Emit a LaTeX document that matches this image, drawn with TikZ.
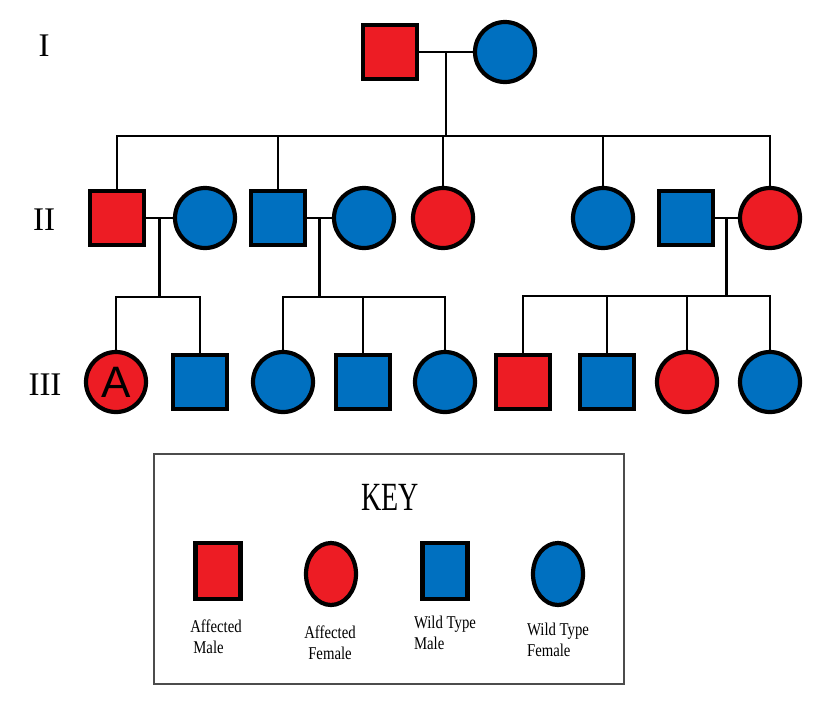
\documentclass[tikz,border=0pt]{standalone}
\usepackage{fontspec}
\setmainfont{Liberation Serif}
\newfontfamily\sansA{Liberation Sans}
\newfontfamily\keyfont[FakeStretch=0.82]{Liberation Serif}
\newfontfamily\keyhead[FakeStretch=0.7]{Liberation Serif}
\usetikzlibrary{calc,shapes.geometric}
\definecolor{affred}{HTML}{ED1C24}
\definecolor{wtblue}{HTML}{0070C0}

\begin{document}
\begin{tikzpicture}[x=1pt,y=-1pt,line width=2.7pt,
    male/.style={rectangle,draw,line width=4.2pt,minimum size=54pt,inner sep=0pt},
    female/.style={circle,draw,line width=4.2pt,minimum size=60pt,inner sep=0pt},
    aff/.style={fill=affred},
    wt/.style={fill=wtblue},
    gen/.style={font=\fontsize{33}{33}\selectfont},
    keytxt/.style={font=\keyfont\fontsize{18}{21}\selectfont,align=left}]
    \useasboundingbox (0,0) rectangle (826,716);

    % generation I
    \node at (44,46) [gen] (g1) {I};
    \node at (390,52) [male,aff] (i1) {};
    \node at (505,52) [female,wt] (i2) {};

    % generation II
    \node at (44,220) [gen] (g2) {II};
    \node at (117,218) [male,aff] (ii1) {};
    \node at (205,218) [female,wt] (ii2) {};
    \node at (278,218) [male,wt] (ii3) {};
    \node at (364,218) [female,wt] (ii4) {};
    \node at (443,218) [female,aff] (ii5) {};
    \node at (603,218) [female,wt] (ii6) {};
    \node at (686,218) [male,wt] (ii7) {};
    \node at (770,218) [female,aff] (ii8) {};

    % generation III
    \node at (45,385) [gen] (g3) {III};
    \node at (116,382) [female,aff,font=\sansA\fontsize{44}{44}\selectfont] (iii1) {A};
    \node at (200,382) [male,wt] (iii2) {};
    \node at (283,382) [female,wt] (iii3) {};
    \node at (363,382) [male,wt] (iii4) {};
    \node at (445,382) [female,wt] (iii5) {};
    \node at (523,382) [male,aff] (iii6) {};
    \node at (607,382) [male,wt] (iii7) {};
    \node at (687,382) [female,aff] (iii8) {};
    \node at (770,382) [female,wt] (iii9) {};

    % matings and descent lines
    \coordinate (m1) at ($(i1.east)!0.5!(i2.west)$);
    \coordinate (s1) at ($(m1)+(0,84)$);
    \coordinate (m2) at ($(ii1.east)!0.5!(ii2.west)$);
    \coordinate (s2) at ($(m2)+(0,79)$);
    \coordinate (m3) at ($(ii3.east)!0.5!(ii4.west)$);
    \coordinate (s3) at ($(m3)+(0,79)$);
    \coordinate (m4) at ($(ii7.east)!0.5!(ii8.west)$);
    \coordinate (s4) at ($(m4)+(0,78)$);

    \draw (i1) -- (i2) (m1) -- (s1);
    \draw (ii1.north) |- (s1) (ii3.north) |- (s1) (ii5.north) |- (s1)
          (ii6.north) |- (s1) (ii8.north) |- (s1);
    \draw (ii1) -- (ii2) (m2) -- (s2);
    \draw (iii1.north) |- (s2) (iii2.north) |- (s2);
    \draw (ii3) -- (ii4) (m3) -- (s3);
    \draw (iii3.north) |- (s3) (iii4.north) |- (s3) (iii5.north) |- (s3);
    \draw (ii7) -- (ii8) (m4) -- (s4);
    \draw (iii6.north) |- (s4) (iii7.north) |- (s4) (iii8.north) |- (s4)
          (iii9.north) |- (s4);

    % key
    \node at (389,569) [draw=black!70,line width=1.6pt,minimum width=470pt,minimum height=230pt] (keybox) {};
    \node at (390,497) [font=\keyhead\fontsize{40}{40}\selectfont] (keyt) {KEY};
    \node at (218,571) [male,aff,minimum width=45pt,minimum height=56pt] (k1) {};
    \node at (331,574) [ellipse,draw,line width=4.2pt,fill=affred,minimum width=50pt,minimum height=62pt] (k2) {};
    \node at (445,571) [male,wt,minimum width=45pt,minimum height=56pt] (k3) {};
    \node at (558,574) [ellipse,draw,line width=4.2pt,fill=wtblue,minimum width=50pt,minimum height=62pt] (k4) {};
    \node at (216,637) [keytxt] (l1) {Affected\\\hspace{3pt}Male};
    \node at (330,643) [keytxt,align=center] (l2) {Affected\\Female};
    \node at (445,633) [keytxt] (l3) {Wild Type\\Male};
    \node at (558,640) [keytxt] (l4) {Wild Type\\Female};
\end{tikzpicture}
\end{document}
